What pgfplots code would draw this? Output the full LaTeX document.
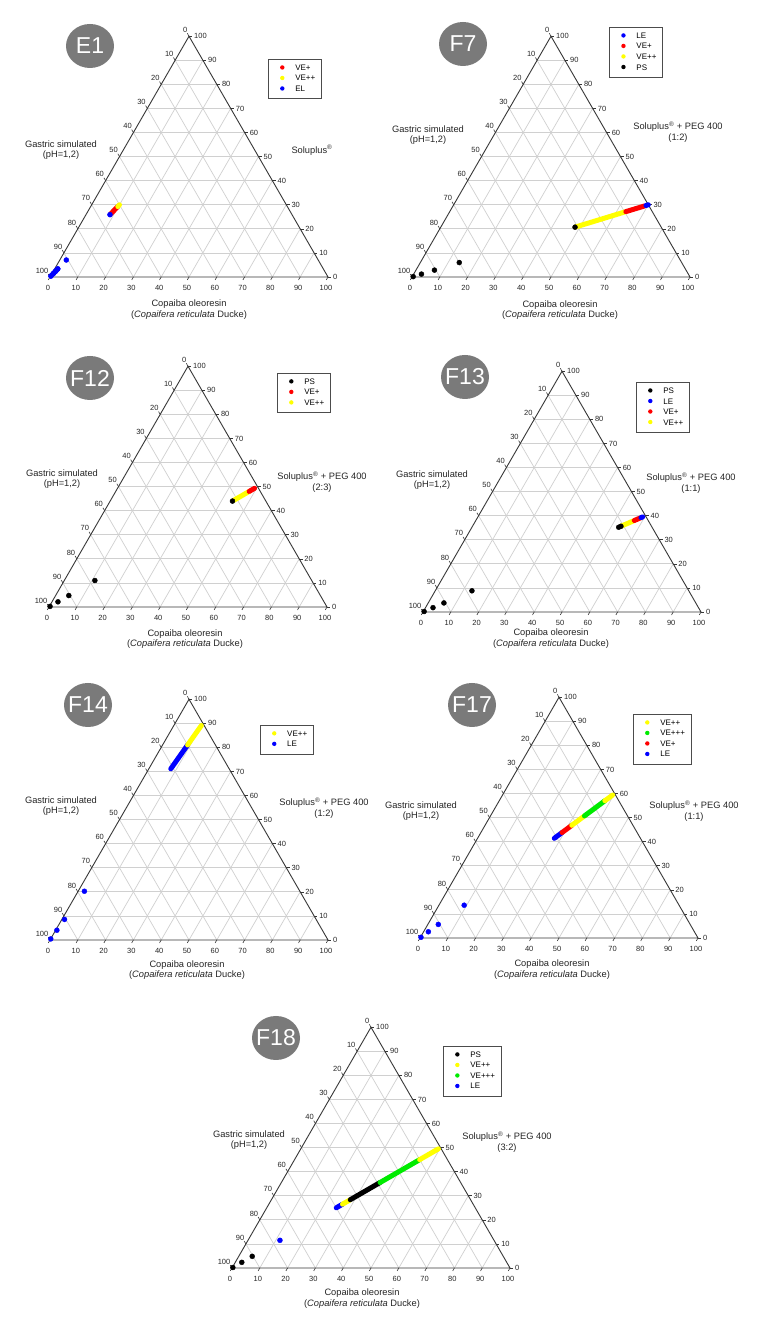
\documentclass[border=0pt]{standalone}
\usepackage{fontspec}
\setmainfont{Liberation Sans}
\usepackage{pgfplots}
\pgfplotsset{compat=1.18}

\definecolor{ptred}{RGB}{255,0,0}
\definecolor{ptyel}{RGB}{255,255,0}
\definecolor{ptblu}{RGB}{0,0,255}
\definecolor{ptgrn}{RGB}{0,235,0}
\definecolor{ptblk}{RGB}{0,0,0}
\definecolor{gridc}{RGB}{208,208,208}
\definecolor{edgec}{RGB}{55,55,55}
\definecolor{badge}{RGB}{122,122,122}

\pgfplotsset{
  /pgfplots/table/tern/.style={x expr=\thisrow{c}+0.5*\thisrow{s}, y expr=0.8660254*\thisrow{s}},
  tern axis/.style={
    hide axis, x=2.78pt, y=2.78pt,
    xmin=0, xmax=100, ymin=0, ymax=86.60254,
    anchor=south west, clip=false,
    legend cell align=left,
    legend image code/.code={\path[draw=none,fill=none] (0pt,-2.5pt) rectangle (21pt,2.5pt); \fill[##1, draw=none] (9pt,1pt) circle (2.2pt);},
    legend style={anchor=north west, draw=black!70, line width=0.7pt, fill=white,
      font=\fontsize{8}{9.6}\selectfont, inner xsep=5pt, inner ysep=4.5pt, row sep=1.5pt,
      nodes={inner xsep=1pt, inner ysep=1pt}},
  },
  seg/.style={forget plot, no markers, line width=5pt, line cap=round},
  pts/.style={forget plot, only marks, mark=*, mark size=2.5pt},
}

\tikzset{
  tlab/.style={font=\fontsize{7.5}{9}\selectfont, inner sep=0pt, text=black!85},
  ttl/.style={font=\fontsize{9.3}{10.7}\selectfont, align=center, inner sep=0pt, text=black!85},
  badgetxt/.style={font=\fontsize{23}{23}\selectfont, text=white, inner sep=0pt},
}

% triangle, grid, ticks and tick labels; #1,#2 = lower left corner in pt
\newcommand{\ternframe}[2]{%
  \begin{scope}[shift={(#1pt,#2pt)}, x=2.78pt, y=2.78pt]
    \foreach \k in {10,20,...,90}{
      \draw[gridc, line width=0.7pt] ({\k/2},{0.8660254*\k}) -- ({100-\k/2},{0.8660254*\k});
      \draw[gridc, line width=0.7pt] (\k,0) -- ({50+\k/2},{86.60254-0.8660254*\k});
      \draw[gridc, line width=0.7pt] ({100-\k},0) -- ({50-\k/2},{86.60254-0.8660254*\k});
    }
    \draw[edgec, line width=0.9pt] (0,0) -- (100,0) -- (50,86.60254) -- cycle;
    \foreach \v in {0,10,...,100}{
      \draw[edgec, line width=0.6pt] (\v,0) -- ++(-0.6,-1.04);
      \node[tlab, anchor=center] at ({\v-0.72},-3.8) {\v};
      \draw[edgec, line width=0.6pt] ({(100-\v)/2},{0.8660254*(100-\v)}) -- ++(-0.6,1.04);
      \node[tlab, anchor=south east] at ({(100-\v)/2-0.54},{0.8660254*(100-\v)+1.26}) {\v};
      \draw[edgec, line width=0.6pt] ({100-\v/2},{0.8660254*\v}) -- ++(1.2,0);
      \node[tlab, anchor=west] at ({100-\v/2+1.8},{0.8660254*\v}) {\v};
    }
  \end{scope}}
\newcommand{\badge}[3]{\fill[badge] (#1pt,#2pt) ellipse (24pt and 22pt); \node[badgetxt] at (#1pt,#2pt) {#3};}
\newcommand{\gastric}[2]{\node[ttl] at (#1pt,#2pt) {Gastric simulated\\(pH=1,2)};}
\newcommand{\copaiba}[2]{\node[ttl] at (#1pt,#2pt) {Copaiba oleoresin\\(\textit{Copaifera reticulata} Ducke)};}
\newcommand{\solu}[3]{\node[ttl] at (#1pt,#2pt) {Soluplus\textsuperscript{®} + PEG 400\\(#3)};}

\begin{document}
\begin{tikzpicture}
\fill[white] (0pt,0pt) rectangle (759pt,1326pt);
\path[use as bounding box] (0pt,0pt) rectangle (759pt,1326pt);

% ---------- E1 ----------
\ternframe{50}{1049}
\badge{90}{1280}{E1}
\gastric{61}{1176}
\node[ttl] at (312pt,1176pt) {Soluplus\textsuperscript{®}};
\copaiba{189}{1016.5}
\begin{axis}[tern axis, at={(50pt,1049pt)}, legend style={at={(0.784,0.905)}}]
\addplot[seg, ptred] table[tern]{
c s
8.75 26.25
9.75 29.25
};
\addplot[seg, ptyel] table[tern]{
c s
9.75 29.25
10.0 30.0
};
\addplot[seg, ptblu] table[tern]{
c s
0.13 0.38
1.13 3.38
};
\addplot[pts, ptblu] table[tern]{
c s
0.13 0.38
0.50 1.50
0.75 2.25
1.13 3.38
2.35 7.05
8.63 25.88
};
\addlegendimage{ptred}\addlegendentry{VE+}
\addlegendimage{ptyel}\addlegendentry{VE++}
\addlegendimage{ptblu}\addlegendentry{EL}
\end{axis}

% ---------- F7 ----------
\ternframe{412}{1049}
\badge{463}{1282}{F7}
\gastric{428}{1191}
\solu{678}{1194}{1:2}
\copaiba{560}{1016}
\begin{axis}[tern axis, at={(412pt,1049pt)}, legend style={at={(0.709,1.038)}}]
\addplot[seg, ptyel] table[tern]{
c s
48.30 20.70
63.35 27.15
};
\addplot[seg, ptred] table[tern]{
c s
63.35 27.15
68.90 29.50
};
\addplot[seg, ptblu] table[tern]{
c s
69.30 29.70
70.00 30.00
};
\addplot[pts, ptblk] table[tern]{
c s
0.35 0.15
2.80 1.20
6.65 2.85
14.00 6.00
48.30 20.70
};
\addlegendimage{ptblu}\addlegendentry{LE}
\addlegendimage{ptred}\addlegendentry{VE+}
\addlegendimage{ptyel}\addlegendentry{VE++}
\addlegendimage{ptblk}\addlegendentry{PS}
\end{axis}

% ---------- F12 ----------
\ternframe{49}{719}
\badge{90}{948}{F12}
\gastric{62}{847}
\solu{322}{844}{2:3}
\copaiba{185}{687}
\begin{axis}[tern axis, at={(49pt,719pt)}, legend style={at={(0.820,0.972)}}]
\addplot[seg, ptyel] table[tern]{
c s
44.25 44.25
48.00 48.00
};
\addplot[seg, ptred] table[tern]{
c s
48.00 48.00
49.30 49.30
};
\addplot[pts, ptblk] table[tern]{
c s
0.25 0.25
2.15 2.15
4.75 4.75
11.00 11.00
44.00 44.00
};
\addlegendimage{ptblk}\addlegendentry{PS}
\addlegendimage{ptred}\addlegendentry{VE+}
\addlegendimage{ptyel}\addlegendentry{VE++}
\end{axis}

% ---------- F13 ----------
\ternframe{423}{714}
\badge{465}{949}{F13}
\gastric{432}{846}
\solu{691}{843}{1:1}
\copaiba{551}{687.5}
\begin{axis}[tern axis, at={(423pt,714pt)}, legend style={at={(0.766,0.955)}}]
\addplot[seg, ptyel] table[tern]{
c s
53.40 35.60
57.00 38.00
};
\addplot[seg, ptred] table[tern]{
c s
57.00 38.00
58.70 39.10
};
\addplot[seg, ptblu] table[tern]{
c s
58.80 39.20
59.30 39.50
};
\addplot[pts, ptblk] table[tern]{
c s
0.30 0.20
2.70 1.80
5.64 3.76
13.20 8.80
52.80 35.20
53.40 35.60
};
\addlegendimage{ptblk}\addlegendentry{PS}
\addlegendimage{ptblu}\addlegendentry{LE}
\addlegendimage{ptred}\addlegendentry{VE+}
\addlegendimage{ptyel}\addlegendentry{VE++}
\end{axis}

% ---------- F14 ----------
\ternframe{50}{386}
\badge{88}{621}{F14}
\gastric{61}{520}
\solu{324}{518}{1:2}
\copaiba{187}{356}
\begin{axis}[tern axis, at={(50pt,386pt)}, legend style={at={(0.755,0.893)}}]
\addplot[seg, ptblu] table[tern]{
c s
7.90 71.10
9.00 81.00
};
\addplot[seg, ptyel] table[tern]{
c s
9.00 81.00
9.90 89.10
};
\addplot[pts, ptblu] table[tern]{
c s
0.05 0.45
0.45 4.05
0.95 8.55
2.25 20.25
};
\addlegendimage{ptyel}\addlegendentry{VE++}
\addlegendimage{ptblu}\addlegendentry{LE}
\end{axis}

% ---------- F17 ----------
\ternframe{420}{388}
\badge{472}{621}{F17}
\gastric{421}{515}
\solu{694}{515}{1:1}
\copaiba{552}{356.5}
\begin{axis}[tern axis, at={(420pt,388pt)}, legend style={at={(0.766,0.930)}}]
\addplot[seg, ptblu] table[tern]{
c s
27.60 41.40
29.20 43.80
};
\addplot[seg, ptred] table[tern]{
c s
29.20 43.80
31.20 46.80
};
\addplot[seg, ptyel] table[tern]{
c s
31.20 46.80
33.80 50.70
};
\addplot[seg, ptgrn] table[tern]{
c s
33.80 50.70
38.00 57.00
};
\addplot[seg, ptyel] table[tern]{
c s
38.00 57.00
39.60 59.40
};
\addplot[pts, ptblu] table[tern]{
c s
0.20 0.30
1.72 2.58
3.76 5.64
9.08 13.62
};
\addlegendimage{ptyel}\addlegendentry{VE++}
\addlegendimage{ptgrn}\addlegendentry{VE+++}
\addlegendimage{ptred}\addlegendentry{VE+}
\addlegendimage{ptblu}\addlegendentry{LE}
\end{axis}

% ---------- F18 ----------
\ternframe{232}{58}
\badge{276}{288}{F18}
\gastric{249}{186}
\solu{507}{184}{3:2}
\copaiba{362}{27.5}
\begin{axis}[tern axis, at={(232pt,58pt)}, legend style={at={(0.759,0.922)}}]
\addplot[seg, ptblu] table[tern]{
c s
25.00 25.00
26.50 26.50
};
\addplot[seg, ptyel] table[tern]{
c s
26.50 26.50
28.35 28.35
};
\addplot[seg, ptblk] table[tern]{
c s
28.35 28.35
35.50 35.50
};
\addplot[seg, ptgrn] table[tern]{
c s
35.50 35.50
45.00 45.00
};
\addplot[seg, ptyel] table[tern]{
c s
45.00 45.00
49.50 49.50
};
\addplot[pts, ptblk] table[tern]{
c s
0.20 0.20
2.35 2.35
4.85 4.85
};
\addplot[pts, ptblu] table[tern]{
c s
11.50 11.50
};
\addlegendimage{ptblk}\addlegendentry{PS}
\addlegendimage{ptyel}\addlegendentry{VE++}
\addlegendimage{ptgrn}\addlegendentry{VE+++}
\addlegendimage{ptblu}\addlegendentry{LE}
\end{axis}
\end{tikzpicture}
\end{document}
